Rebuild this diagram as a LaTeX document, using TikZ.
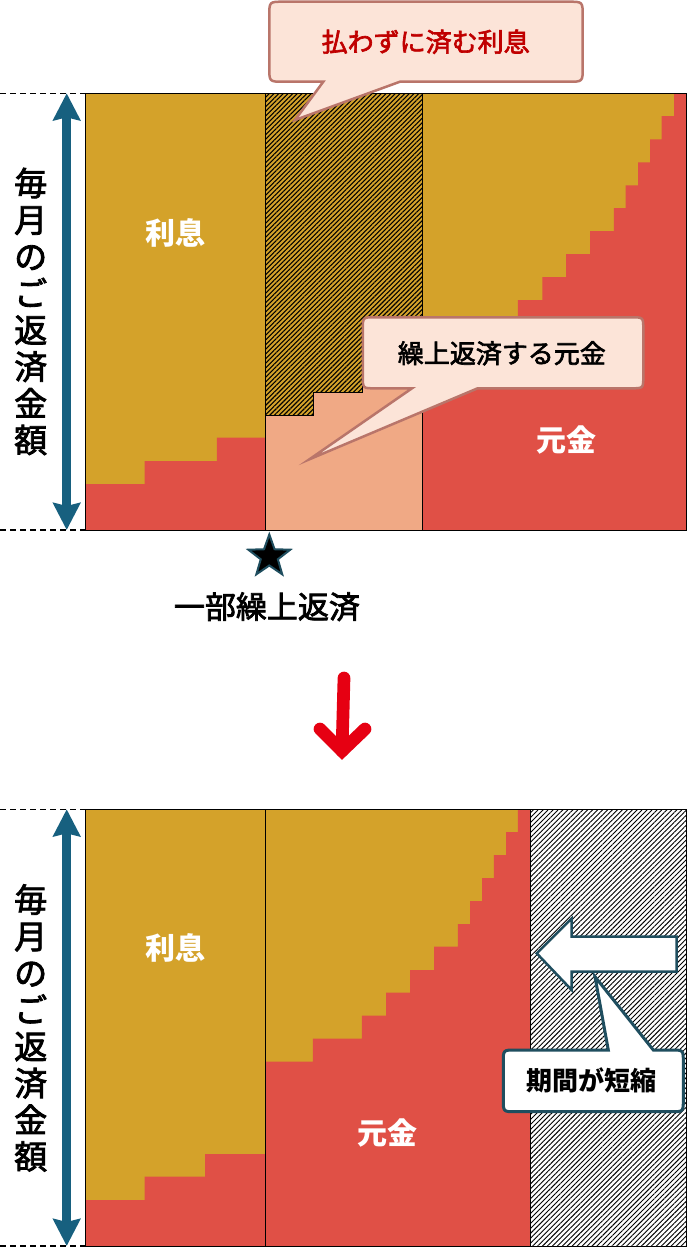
\documentclass[tikz,border=0pt]{standalone}
\usepackage{fontspec}
\setmainfont{Noto Sans CJK JP}
\newfontface\medfont{Noto Sans CJK JP}[FakeBold=2.5]
\usetikzlibrary{arrows.meta,patterns.meta,shapes.geometric}
\definecolor{gold}{HTML}{D4A22A}
\definecolor{prin}{HTML}{E05046}
\definecolor{salmon}{HTML}{F0A985}
\definecolor{cfill}{HTML}{FCE4D8}
\definecolor{cedge}{HTML}{B9756A}
\definecolor{dred}{HTML}{C00000}
\definecolor{axisblue}{HTML}{17607F}
\definecolor{teal}{HTML}{1F4E5F}
\definecolor{arrred}{HTML}{E60012}
\begin{document}
\begin{tikzpicture}[x=1pt,y=-1pt,
  hatch/.style={pattern={Lines[angle=45,distance=3.3pt,line width=1.1pt]},pattern color=black},
  hatchw/.style={pattern={Lines[angle=45,distance=3.5pt,line width=0.9pt]},pattern color=black},
  frame/.style={draw=black,line width=1pt},
  calloutA/.style={fill=cfill,draw=cedge,line width=2.5pt,line join=miter},
  calloutB/.style={fill=white,draw=teal,line width=3pt,line join=miter},
  ctext/.style={inner sep=0pt,font=\fontsize{26pt}{30pt}\medfont},
  bigw/.style={inner sep=0pt,text=white,font=\fontsize{30pt}{34pt}\selectfont\bfseries},
  vtext/.style={inner sep=0pt,align=center,font=\fontsize{33pt}{36.7pt}\medfont},
  yaxis/.style={draw=axisblue,line width=8.7pt,{Stealth[length=27pt,width=27pt,inset=3pt]}-{Stealth[length=27pt,width=27pt,inset=3pt]}},
  guide/.style={draw=black,line width=1.5pt,dash pattern=on 6pt off 4pt}
]
\useasboundingbox (0,0) rectangle (687,1259);
\fill[white] (0,0) rectangle (687,1259);

% ================= TOP CHART =================
% section 1
\fill[gold] (85.4,93.3) rectangle (265.5,530);
\fill[prin] (85.4,530) -- (85.4,484) -- (144.6,484) -- (144.6,461) -- (216.9,461) -- (216.9,437.7) -- (265.5,437.7) -- (265.5,530) -- cycle;
% section 2
\fill[salmon] (265.5,93.3) rectangle (422.4,530);
\fill[gold] (265.5,93.3) -- (422.4,93.3) -- (422.4,369) -- (362.8,369) -- (362.8,392.3) -- (313.7,392.3) -- (313.7,415.7) -- (265.5,415.7) -- cycle;
\fill[hatch] (265.5,93.3) -- (422.4,93.3) -- (422.4,369) -- (362.8,369) -- (362.8,392.3) -- (313.7,392.3) -- (313.7,415.7) -- (265.5,415.7) -- cycle;
\draw[frame] (265.5,93.3) -- (422.4,93.3) -- (422.4,369) -- (362.8,369) -- (362.8,392.3) -- (313.7,392.3) -- (313.7,415.7) -- (265.5,415.7) -- cycle;
% section 3
\fill[gold] (422.4,93.3) rectangle (687,530);
\fill[prin] (687,93.3) -- (674,93.3) -- (674,116) -- (661.6,116) -- (661.6,139.3) -- (650.2,139.3) -- (650.2,162.3) -- (638,162.3) -- (638,185.3) -- (625.7,185.3) -- (625.7,208) -- (613.9,208) -- (613.9,231) -- (590.2,231) -- (590.2,254) -- (566.1,254) -- (566.1,277) -- (542.4,277) -- (542.4,300) -- (517.9,300) -- (517.9,323) -- (469,323) -- (469,346) -- (422.4,346) -- (422.4,530) -- (687,530) -- cycle;
% frame
\draw[frame] (85.4,93.3) rectangle (686.5,530);
\draw[frame] (265.5,93.3) -- (265.5,530);
\draw[frame] (422.4,93.3) -- (422.4,530);

% axis
\coordinate (t1) at (0,93.3);  \coordinate (t1e) at (85.4,93.3);
\coordinate (b1) at (0,530);   \coordinate (b1e) at (85.4,530);
\draw[guide] (t1) -- (t1e);
\draw[guide] (b1) -- (b1e);
\coordinate (a1t) at (66.7,93.3); \coordinate (a1b) at (66.7,530);
\draw[yaxis] (a1t) -- (a1b);
\node[vtext] (v1) at (30.7,311.5) {毎\\月\\の\\ご\\返\\済\\金\\額};

\node[bigw] (int1) at (175.7,233.3) {利息};
\node[bigw] (pri1) at (566.8,440) {元金};

% callout 1
\draw[calloutA] (400,81.7) -- (568.7,81.7) .. controls (582.7,81.7) .. (582.7,67.7) -- (582.7,15.7) .. controls (582.7,1.7) .. (568.7,1.7) -- (283.3,1.7) .. controls (269.3,1.7) .. (269.3,15.7) -- (269.3,67.7) .. controls (269.3,81.7) .. (283.3,81.7) -- (323.3,81.7) -- (295,120) -- cycle;
\node[ctext,text=dred] (c1) at (425.7,41.7) {払わずに済む利息};

% callout 2
\draw[calloutA] (477.6,388.3) -- (631.3,388.3) .. controls (643.3,388.3) .. (643.3,376.3) -- (643.3,329.3) .. controls (643.3,317.3) .. (631.3,317.3) -- (374.8,317.3) .. controls (362.8,317.3) .. (362.8,329.3) -- (362.8,376.3) .. controls (362.8,388.3) .. (374.8,388.3) -- (412,388.3) -- (309.4,459.3) -- cycle;
\node[ctext,text=black] (c2) at (501.8,353.3) {繰上返済する元金};

% star and label
\node[star,star points=5,star point ratio=2.45,minimum size=44pt,inner sep=0pt,fill=black,draw=teal,line width=2pt] (st) at (269.3,556.5) {};
\node[inner sep=0pt,font=\fontsize{31pt}{34pt}\medfont] (lbl) at (266.9,606.7) {一部繰上返済};

% red arrow
\coordinate (ra1) at (344,678);
\coordinate (ra2) at (342,751);
\coordinate (ral) at (320,729);
\coordinate (rar) at (365,729);
\draw[arrred,line width=12.7pt,line cap=round] (ra1) -- (ra2);
\draw[arrred,line width=12.7pt,line cap=round,line join=miter] (ral) -- (ra2) -- (rar);

% ================= BOTTOM CHART =================
\fill[gold] (85.4,809.3) rectangle (530.7,1246);
\fill[prin] (85.4,1246) -- (85.4,1200) -- (144.6,1200) -- (144.6,1176.7) -- (205,1176.7) -- (205,1154) -- (265.5,1154) -- (265.5,1246) -- cycle;
\fill[prin] (530.7,809.3) -- (517.9,809.3) -- (517.9,832) -- (506.1,832) -- (506.1,855) -- (493.9,855) -- (493.9,878) -- (482,878) -- (482,901) -- (470.2,901) -- (470.2,924) -- (457.9,924) -- (457.9,946.7) -- (434.2,946.7) -- (434.2,970) -- (410.1,970) -- (410.1,992.7) -- (386,992.7) -- (386,1015.7) -- (361.9,1015.7) -- (361.9,1038.7) -- (312.9,1038.7) -- (312.9,1061.7) -- (265.5,1061.7) -- (265.5,1246) -- (530.7,1246) -- cycle;
\fill[white] (530.7,809.3) rectangle (687,1246);
\fill[hatchw] (530.7,809.3) rectangle (687,1246);
\draw[frame] (85.4,809.3) rectangle (686.5,1246);
\draw[frame] (265.5,809.3) -- (265.5,1246);
\draw[frame] (530.7,809.3) -- (530.7,1246);

\coordinate (t2) at (0,809.3);  \coordinate (t2e) at (85.4,809.3);
\coordinate (b2) at (0,1246);   \coordinate (b2e) at (85.4,1246);
\draw[guide] (t2) -- (t2e);
\draw[guide] (b2) -- (b2e);
\coordinate (a2t) at (66.7,809.3); \coordinate (a2b) at (66.7,1246);
\draw[yaxis] (a2t) -- (a2b);
\node[vtext] (v2) at (30.7,1028) {毎\\月\\の\\ご\\返\\済\\金\\額};

\node[bigw] (int2) at (175.7,948.3) {利息};
\node[bigw] (pri2) at (387.2,1133.3) {元金};

% left arrow
\draw[fill=white,draw=teal,line width=2.5pt,line join=miter] (536.7,953.3) -- (571.7,918.3) -- (571.7,936.7) -- (676.7,936.7) -- (676.7,971.7) -- (571.7,971.7) -- (571.7,990) -- cycle;

% callout 3
\draw[calloutB] (608.3,1050) -- (595,976.7) -- (653.3,1050) -- (671.3,1050) .. controls (683.3,1050) .. (683.3,1062) -- (683.3,1099.7) .. controls (683.3,1111.7) .. (671.3,1111.7) -- (515.3,1111.7) .. controls (503.3,1111.7) .. (503.3,1099.7) -- (503.3,1062) .. controls (503.3,1050) .. (515.3,1050) -- cycle;
\node[ctext,text=black,font=\fontsize{26pt}{30pt}\selectfont\bfseries] (c3) at (591.3,1080) {期間が短縮};
\end{tikzpicture}
\end{document}
